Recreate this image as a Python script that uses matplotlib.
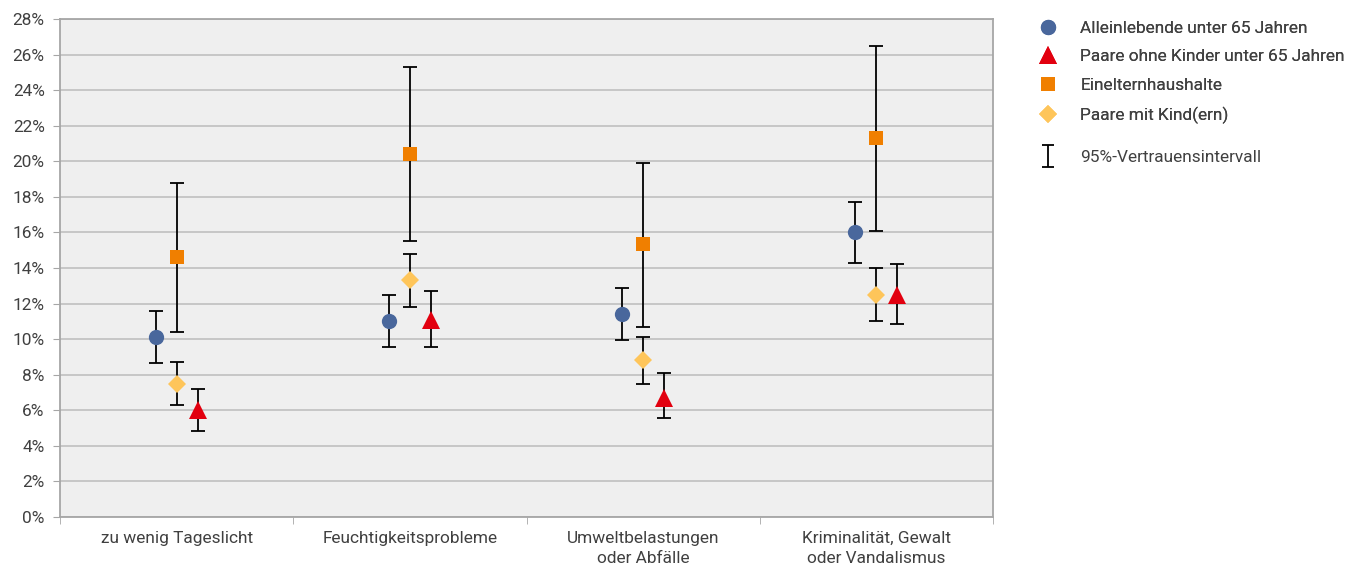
import numpy as np
import matplotlib.pyplot as plt
from matplotlib.lines import Line2D
from matplotlib.path import Path
from matplotlib.ticker import PercentFormatter, FixedLocator

plt.rcParams['font.family'] = ['Roboto', 'DejaVu Sans']

# Daten (Anteile in %)
kategorien = ['zu wenig Tageslicht', 'Feuchtigkeitsprobleme',
              'Umweltbelastungen\noder Abfälle', 'Kriminalität, Gewalt\noder Vandalismus']

allein_wert = [10.1, 11.0, 11.4, 16.0]
allein_unten = [8.65, 9.55, 9.95, 14.3]
allein_oben = [11.6, 12.5, 12.9, 17.7]

paare_ohne_wert = [6.0, 11.1, 6.7, 12.5]
paare_ohne_unten = [4.85, 9.55, 5.55, 10.85]
paare_ohne_oben = [7.2, 12.7, 8.1, 14.2]

eineltern_wert = [14.6, 20.4, 15.35, 21.3]
eineltern_unten = [10.4, 15.5, 10.7, 16.1]
eineltern_oben = [18.8, 25.3, 19.9, 26.5]

paare_mit_wert = [7.5, 13.3, 8.8, 12.5]
paare_mit_unten = [6.3, 11.8, 7.5, 11.0]
paare_mit_oben = [8.7, 14.8, 10.1, 14.0]

serien = [
    ('Alleinlebende unter 65 Jahren', allein_wert, allein_unten, allein_oben, -0.09, 'o', '#49679c', 11),
    ('Paare ohne Kinder unter 65 Jahren', paare_ohne_wert, paare_ohne_unten, paare_ohne_oben, 0.09, '^', '#e2000f', 12.5),
    ('Einelternhaushalte', eineltern_wert, eineltern_unten, eineltern_oben, 0.0, 's', '#f07f00', 9.5),
    ('Paare mit Kind(ern)', paare_mit_wert, paare_mit_unten, paare_mit_oben, 0.0, 'D', '#fec55a', 9),
]

textfarbe = '#404040'

fig = plt.figure(figsize=(13.54, 5.70), dpi=100)
ax = fig.add_axes([60 / 1354, 53 / 570, 933 / 1354, 498 / 570])
ax.set_facecolor('#efefef')

x = np.arange(len(kategorien))
handles = []
for name, wert, unten, oben, versatz, marker, farbe, ms in serien:
    wert = np.array(wert)
    fehler = [wert - np.array(unten), np.array(oben) - wert]
    ax.errorbar(x + versatz, wert, yerr=fehler, fmt='none', ecolor='black',
                elinewidth=1.3, capsize=5, capthick=1.3, zorder=3)
    ax.plot(x + versatz, wert, linestyle='none', marker=marker, color=farbe,
            markersize=ms, markeredgewidth=0, zorder=4)
    handles.append(Line2D([], [], linestyle='none', marker=marker, color=farbe,
                          markersize=ms, markeredgewidth=0, label=name))

ax.set_xlim(-0.5, 3.5)
ax.set_ylim(0, 28)
ax.set_yticks(np.arange(0, 29, 2))
ax.yaxis.set_major_formatter(PercentFormatter(decimals=0))
ax.grid(axis='y', color='#bfbfbf', linewidth=1.2, zorder=0)
ax.set_axisbelow(True)

ax.set_xticks(x)
ax.set_xticklabels(kategorien, fontsize=12.4, color=textfarbe, linespacing=1.45)
ax.xaxis.set_minor_locator(FixedLocator([-0.5, 0.5, 1.5, 2.5, 3.5]))
ax.tick_params(axis='x', which='major', length=0, pad=10)
ax.tick_params(axis='x', which='minor', length=5, color='#a6a6a6')
ax.tick_params(axis='y', length=5, color='#a6a6a6', labelsize=12.4, labelcolor=textfarbe, pad=6)

for s in ax.spines.values():
    s.set_color('#a6a6a6')
    s.set_linewidth(1.3)

# Legendensymbol fuer das Konfidenzintervall (senkrechter Strich mit Kappen)
klammer = Path([(-0.5, 1), (0.5, 1), (0, 1), (0, -1), (-0.5, -1), (0.5, -1)],
               [Path.MOVETO, Path.LINETO, Path.MOVETO, Path.LINETO, Path.MOVETO, Path.LINETO])
ci = Line2D([], [], linestyle='none', marker=klammer, markersize=16, markeredgewidth=1.3,
            markeredgecolor='black', markerfacecolor='none', label='95%-Vertrauensintervall')

leg1 = fig.legend(handles=handles, loc='upper left', bbox_to_anchor=(1020 / 1354, 1 - 5 / 570),
                  frameon=False, fontsize=12.4, labelspacing=0.8, handletextpad=1.1,
                  handlelength=1.5, labelcolor=textfarbe)
fig.legend(handles=[ci], loc='upper left', bbox_to_anchor=(1020 / 1354, 1 - 134 / 570),
           frameon=False, fontsize=12.4, handletextpad=1.1, handlelength=1.5,
           labelcolor=textfarbe)
fig.add_artist(leg1)

fig.savefig('out.png', dpi=100)
